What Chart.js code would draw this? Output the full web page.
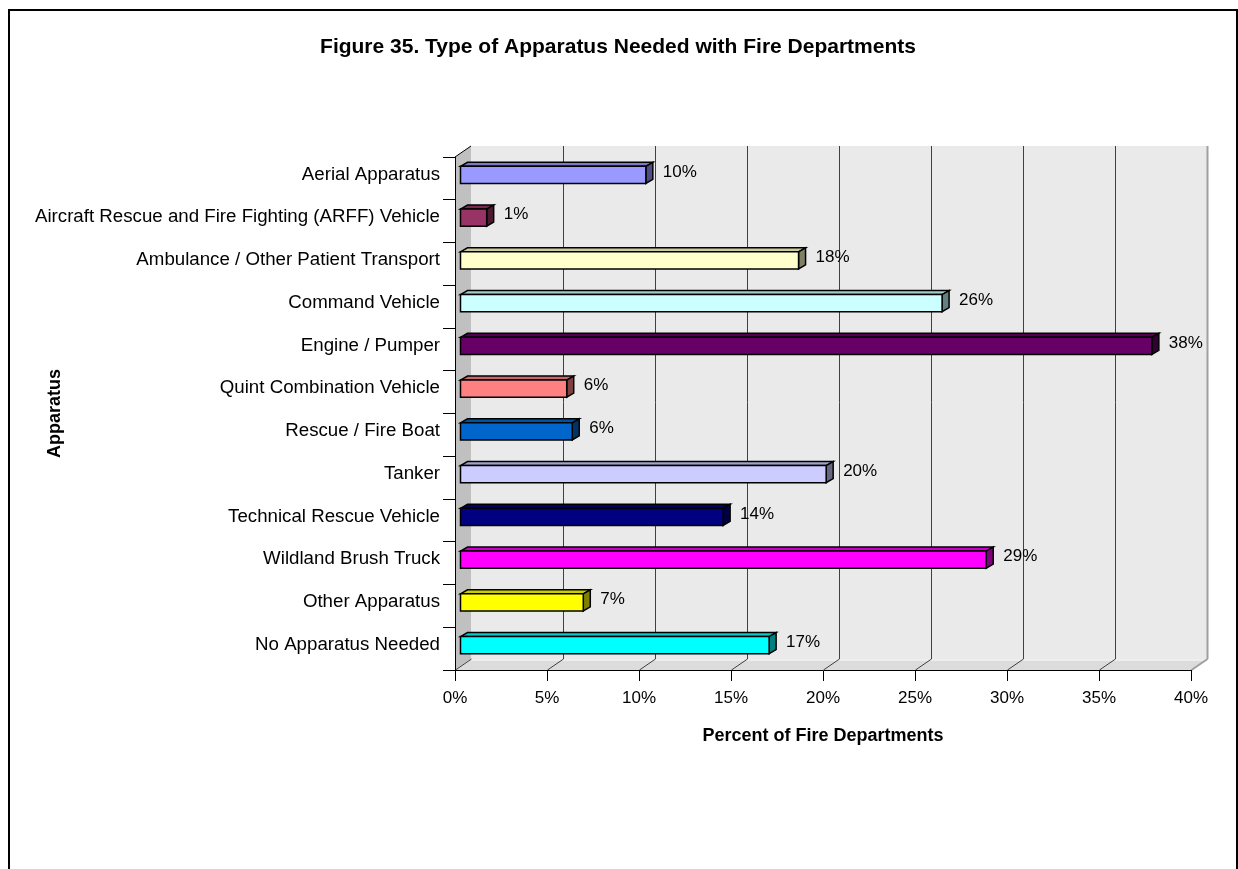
<!DOCTYPE html>
<html>
<head>
<meta charset="utf-8">
<title>Figure 35. Type of Apparatus Needed with Fire Departments</title>
<script src="https://cdn.jsdelivr.net/npm/chart.js@4/dist/chart.umd.min.js"></script>
<style>
  html, body { margin: 0; padding: 0; background: #fff; }
</style>
</head>
<body>
<canvas id="chart" width="1238" height="869"></canvas>
<script>
const categories = [
    "Aerial Apparatus",
    "Aircraft Rescue and Fire Fighting (ARFF) Vehicle",
    "Ambulance / Other Patient Transport",
    "Command Vehicle",
    "Engine / Pumper",
    "Quint Combination Vehicle",
    "Rescue / Fire Boat",
    "Tanker",
    "Technical Rescue Vehicle",
    "Wildland Brush Truck",
    "Other Apparatus",
    "No Apparatus Needed"
];
const percents = [10.1, 1.45, 18.4, 26.2, 37.6, 5.8, 6.1, 19.9, 14.3, 28.6, 6.7, 16.8];
const barColors = [
    "#9999FF", "#993366", "#FFFFCC", "#CCFFFF", "#660066", "#FF8080",
    "#0066CC", "#CCCCFF", "#000080", "#FF00FF", "#FFFF00", "#00FFFF"
];
const xTicks = [0, 5, 10, 15, 20, 25, 30, 35, 40];
const titleText = "Figure 35. Type of Apparatus Needed with Fire Departments";

const FONT = "'Liberation Sans', Arial, sans-serif";
// depth of the 3d box and of the bars
const WALL_DX = 16, WALL_DY = 11;
const BAR_SHIFT_X = 5, BAR_SHIFT_Y = -3.5;
const BAR_DX = 7, BAR_DY = 4;

function shade(hex, f) {
    const n = parseInt(hex.slice(1), 16);
    const r = Math.round(((n >> 16) & 255) * f);
    const g = Math.round(((n >> 8) & 255) * f);
    const b = Math.round((n & 255) * f);
    return "rgb(" + r + "," + g + "," + b + ")";
}

function poly(ctx, pts, fill, stroke, lw) {
    ctx.beginPath();
    ctx.moveTo(pts[0][0], pts[0][1]);
    for (let i = 1; i < pts.length; i++) ctx.lineTo(pts[i][0], pts[i][1]);
    ctx.closePath();
    if (fill) { ctx.fillStyle = fill; ctx.fill(); }
    if (stroke) { ctx.strokeStyle = stroke; ctx.lineWidth = lw || 1; ctx.stroke(); }
}

const box3d = {
    id: "box3d",
    beforeDraw(c) {
        const ctx = c.ctx;
        const a = c.chartArea;
        const x = c.scales.x;
        ctx.save();
        ctx.fillStyle = "#fff";
        ctx.fillRect(0, 0, c.width, c.height);
        ctx.strokeStyle = "#000";
        ctx.lineWidth = 2;
        ctx.strokeRect(9, 10, 1228, 900);

        // title
        ctx.fillStyle = "#000";
        ctx.font = "bold 21px " + FONT;
        ctx.textAlign = "center";
        ctx.textBaseline = "middle";
        ctx.fillText(titleText, 618, 47);

        // back wall
        ctx.fillStyle = "#EAEAEA";
        ctx.fillRect(a.left + WALL_DX, a.top - WALL_DY, a.right - a.left, a.bottom - a.top);
        // side wall
        poly(ctx, [[a.left, a.top], [a.left + WALL_DX, a.top - WALL_DY],
            [a.left + WALL_DX, a.bottom - WALL_DY], [a.left, a.bottom]], "#C0C0C0");
        // floor
        poly(ctx, [[a.left, a.bottom], [a.left + WALL_DX, a.bottom - WALL_DY],
            [a.right + WALL_DX, a.bottom - WALL_DY], [a.right, a.bottom]], "#DCDCDC");
        ctx.strokeStyle = "#F4F4F4";
        ctx.lineWidth = 1.5;
        ctx.beginPath();
        ctx.moveTo(a.left + WALL_DX, a.bottom - WALL_DY + 1);
        ctx.lineTo(a.right + WALL_DX, a.bottom - WALL_DY + 1);
        ctx.stroke();

        // grid lines on back wall and floor
        xTicks.forEach((v, i) => {
            const px = Math.round(x.getPixelForValue(v)) + 0.5;
            const last = i === xTicks.length - 1;
            ctx.strokeStyle = last ? "#A0A0A0" : "#404040";
            ctx.lineWidth = last ? 2 : 1;
            ctx.beginPath();
            if (i > 0) {
                ctx.moveTo(px + WALL_DX, a.top - WALL_DY);
                ctx.lineTo(px + WALL_DX, a.bottom - WALL_DY);
            }
            ctx.moveTo(px, a.bottom);
            ctx.lineTo(px + WALL_DX, a.bottom - WALL_DY);
            ctx.stroke();
        });
        // top edge of side wall
        ctx.strokeStyle = "#000";
        ctx.lineWidth = 1;
        ctx.beginPath();
        ctx.moveTo(a.left, a.top);
        ctx.lineTo(a.left + WALL_DX, a.top - WALL_DY);
        ctx.stroke();
        ctx.restore();
    },
    afterDatasetsDraw(c) {
        const ctx = c.ctx;
        const bars = c.getDatasetMeta(0).data;
        ctx.save();
        ctx.lineJoin = "miter";
        bars.forEach((bar, i) => {
            const col = barColors[i];
            const x0 = bar.base + BAR_SHIFT_X;
            const x1 = bar.x + BAR_SHIFT_X;
            const yt = bar.y + BAR_SHIFT_Y - bar.height / 2;
            const yb = yt + bar.height;
            poly(ctx, [[x0, yt], [x0 + BAR_DX, yt - BAR_DY], [x1 + BAR_DX, yt - BAR_DY], [x1, yt]],
                shade(col, 0.8), "#000", 1.5);
            poly(ctx, [[x1, yt], [x1 + BAR_DX, yt - BAR_DY], [x1 + BAR_DX, yb - BAR_DY], [x1, yb]],
                shade(col, 0.5), "#000", 1.5);
            poly(ctx, [[x0, yt], [x1, yt], [x1, yb], [x0, yb]], col, "#000", 1.5);

            ctx.fillStyle = "#000";
            ctx.font = "17px " + FONT;
            ctx.textAlign = "left";
            ctx.textBaseline = "middle";
            ctx.fillText(Math.round(percents[i]) + "%", x1 + BAR_DX + 10, bar.y + BAR_SHIFT_Y - 3);
        });
        ctx.restore();
    }
};

const ctx = document.getElementById("chart").getContext("2d");
let chart = new Chart(ctx, {
    type: "bar",
    data: {
        labels: categories,
        datasets: [{
            data: percents,
            backgroundColor: "rgba(0,0,0,0)",
            borderWidth: 0,
            barPercentage: 0.4,
            categoryPercentage: 1
        }]
    },
    plugins: [box3d],
    options: {
        indexAxis: "y",
        responsive: false,
        animation: false,
        devicePixelRatio: 1,
        layout: { padding: { left: 10, right: 47, top: 157, bottom: 0 } },
        plugins: {
            legend: { display: false },
            tooltip: { enabled: false },
            title: { display: false }
        },
        scales: {
            x: {
                type: "linear",
                min: 0,
                max: 40,
                afterFit(scale) { scale.height = 199; },
                afterBuildTicks(scale) { scale.ticks = xTicks.map(v => ({ value: v })); },
                ticks: {
                    color: "#000",
                    font: { family: FONT, size: 17 },
                    padding: 7,
                    maxRotation: 0,
                    callback: v => v + "%"
                },
                grid: { color: "#000", drawOnChartArea: false, tickLength: 11 },
                border: { display: true, color: "#000", width: 1 },
                title: {
                    display: true,
                    text: "Percent of Fire Departments",
                    color: "#000",
                    font: { family: FONT, size: 18, weight: "bold" },
                    padding: { top: 0, bottom: 122 }
                }
            },
            y: {
                afterFit(scale) { scale.width = 445; },
                ticks: {
                    color: "#000",
                    font: { family: FONT, size: 18.7 },
                    padding: 3,
                    labelOffset: -4,
                    autoSkip: false
                },
                grid: { color: "#000", drawOnChartArea: false, tickLength: 12, offset: true },
                border: { display: true, color: "#000", width: 1 },
                title: {
                    display: true,
                    text: "Apparatus",
                    color: "#000",
                    font: { family: FONT, size: 18, weight: "bold" },
                    padding: { top: 34, bottom: 0 }
                }
            }
        }
    }
});
</script>
</body>
</html>
